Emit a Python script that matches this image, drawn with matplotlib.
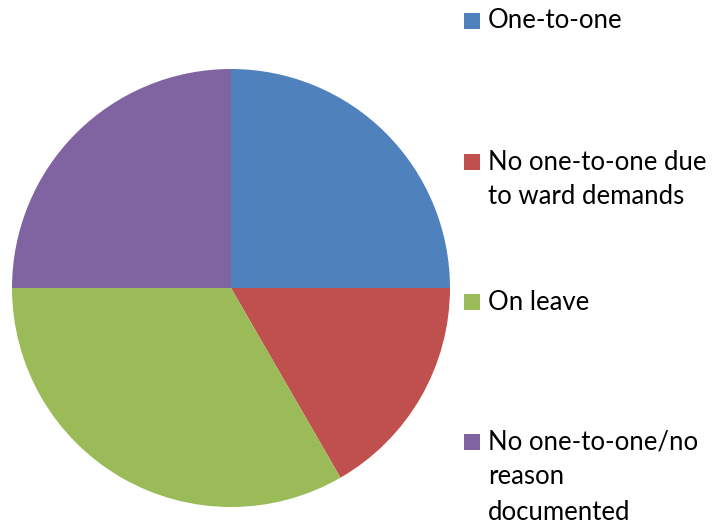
import matplotlib.pyplot as plt
from matplotlib.patches import Rectangle

labels = ["One-to-one", "No one-to-one due\nto ward demands", "On leave",
          "No one-to-one/no\nreason\ndocumented"]
values = [3, 2, 4, 3]
colors = ["#4F81BD", "#C0504D", "#9BBB59", "#8064A2"]

W, H = 715, 526
fig = plt.figure(figsize=(W / 100, H / 100), dpi=100)

# pie: centre (231, 288) px, radius 219 px
cx, cy, r = 231, 288, 219
ax = fig.add_axes([(cx - r) / W, (H - cy - r) / H, 2 * r / W, 2 * r / H])
ax.pie(values, colors=colors, startangle=90, counterclock=False,
       wedgeprops=dict(linewidth=0))
ax.set_xlim(-1, 1)
ax.set_ylim(-1, 1)
ax.set_aspect("equal")
ax.axis("off")

# legend drawn by hand
item_y = [21, 162, 302, 442]
line_h = 35
for lab, col, y in zip(labels, colors, item_y):
    fig.patches.append(Rectangle((464 / W, (H - y - 8) / H), 16 / W, 16 / H,
                                 transform=fig.transFigure, facecolor=col,
                                 edgecolor="none"))
    for i, line in enumerate(lab.split("\n")):
        fig.text(488 / W, (H - y - i * line_h) / H, line, fontsize=18.5,
                 family="Lato", va="center", ha="left", color="black")

fig.savefig("out.png", dpi=100)
